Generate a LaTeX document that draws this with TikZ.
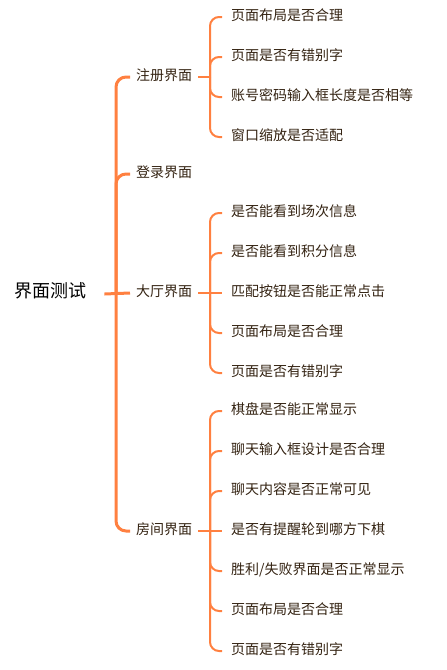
\documentclass[tikz,border=0pt]{standalone}
\usepackage{fontspec}
\setmainfont{Noto Sans CJK SC}
\definecolor{br}{RGB}{255,128,64}
\definecolor{tx}{RGB}{51,34,17}
\begin{document}
\begin{tikzpicture}[x=1pt,y=-1pt,
  every node/.style={inner sep=0pt, text height=0.88em, text depth=0.12em, anchor=west},
  lab/.style={font=\fontsize{14}{14}\selectfont, text=tx},
  rootlab/.style={font=\fontsize{18}{18}\selectfont, text=black},
  mainline/.style={draw=br, line width=3pt, rounded corners=10pt},
  subline/.style={draw=br, line width=2pt, rounded corners=9pt}]
\useasboundingbox (0,0) rectangle (447,670);
% root and level 1
\node[rootlab] (root) at (14,294) {界面测试};
\node[lab] (z) at (136,77) {注册界面};
\node[lab] (d) at (136,174) {登录界面};
\node[lab] (t) at (136,293) {大厅界面};
\node[lab] (f) at (136,531) {房间界面};
\coordinate (hub) at (116,293);
\draw[mainline] ([xshift=18pt]root.east) -- ([xshift=-6pt]t.west);
\draw[mainline] (hub) |- ([xshift=-6pt]z.west);
\draw[mainline] (hub) |- ([xshift=-6pt]d.west);
\draw[mainline] (hub) |- ([xshift=-6pt]f.west);
% level 2 hubs
\coordinate (zj) at (210,77);
\coordinate (tj) at (210,293);
\coordinate (fj) at (210,531);
\draw[subline] ([xshift=6pt]z.east) -- (zj);
\draw[subline] ([xshift=6pt]t.east) -- (tj);
\draw[subline] ([xshift=6pt]f.east) -- (fj);
% 注册 items
\foreach \i/\y/\s in {1/17/页面布局是否合理, 2/57/页面是否有错别字, 3/97/账号密码输入框长度是否相等, 4/137/窗口缩放是否适配}{
  \node[lab] (z\i) at (231,\y) {\s};
  \draw[subline] (zj) |- ([xshift=-9pt]z\i.west);
}
% 大厅 items
\foreach \i/\y/\s in {1/213/是否能看到场次信息, 2/253/是否能看到积分信息, 4/333/页面布局是否合理, 5/373/页面是否有错别字}{
  \node[lab] (t\i) at (231,\y) {\s};
  \draw[subline] (tj) |- ([xshift=-9pt]t\i.west);
}
\node[lab] (t3) at (231,293) {匹配按钮是否能正常点击};
\draw[subline] (tj) -- ([xshift=-9pt]t3.west);
% 房间 items
\foreach \i/\y/\s in {1/411/棋盘是否能正常显示, 2/451/聊天输入框设计是否合理, 3/491/聊天内容是否正常可见, 5/571/{胜利/失败界面是否正常显示}, 6/611/页面布局是否合理, 7/651/页面是否有错别字}{
  \node[lab] (f\i) at (231,\y) {\s};
  \draw[subline] (fj) |- ([xshift=-9pt]f\i.west);
}
\node[lab] (f4) at (231,531) {是否有提醒轮到哪方下棋};
\draw[subline] (fj) -- ([xshift=-9pt]f4.west);
\end{tikzpicture}
\end{document}
